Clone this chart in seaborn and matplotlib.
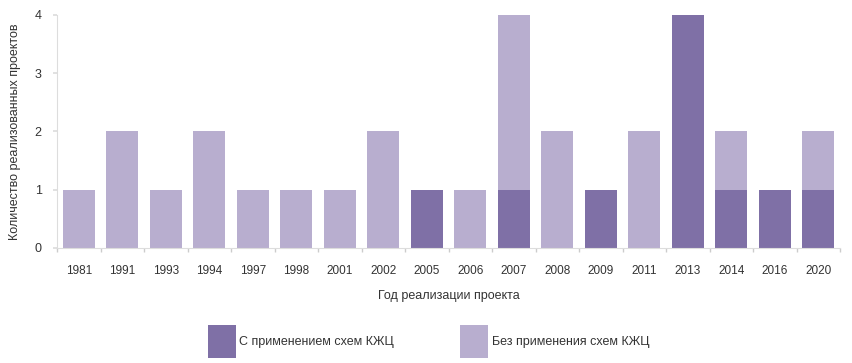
import matplotlib
matplotlib.use("Agg")
import matplotlib.pyplot as plt
from matplotlib.patches import Patch
import seaborn as sns
import pandas as pd
import numpy as np

years = ["1981", "1991", "1993", "1994", "1997", "1998", "2001", "2002", "2005",
         "2006", "2007", "2008", "2009", "2011", "2013", "2014", "2016", "2020"]
with_kzhc = [0, 0, 0, 0, 0, 0, 0, 0, 1, 0, 1, 0, 1, 0, 4, 1, 1, 1]
without_kzhc = [1, 2, 1, 2, 1, 1, 1, 2, 0, 1, 3, 2, 0, 2, 0, 1, 0, 1]
label_with = "С применением схем КЖЦ"
label_without = "Без применения схем КЖЦ"

dark = "#7f70a6"
light = "#b8aecf"
text_c = "#333333"

sns.set_theme(style="white")
plt.rcParams['font.family'] = ['Liberation Sans Narrow', 'Liberation Sans', 'DejaVu Sans']

df = pd.DataFrame({"year": years, "with": with_kzhc, "without": without_kzhc})
df["total"] = df["with"] + df["without"]

fig = plt.figure(figsize=(8.52, 3.63), dpi=100)
ax = fig.add_axes([0.067, 0.317, 0.919, 0.642])

sns.barplot(data=df, x="year", y="total", color=light, width=0.73,
            saturation=1, ax=ax, order=years, linewidth=0, edgecolor="none")
sns.barplot(data=df, x="year", y="with", color=dark, width=0.73,
            saturation=1, ax=ax, order=years, linewidth=0, edgecolor="none")

ax.set_ylim(0, 4)
ax.set_xlim(-0.5, len(years) - 0.5)
ax.set_yticks([0, 1, 2, 3, 4])
ax.set_ylabel("Количество реализованных проектов", fontsize=9, color=text_c, labelpad=10)
ax.set_xlabel("Год реализации проекта", fontsize=9, color=text_c, labelpad=10)
ax.tick_params(axis="x", labelsize=8.5, colors=text_c, length=0, pad=12)
ax.tick_params(axis="y", labelsize=9, colors=text_c, length=3, color="#dddddd", left=True, pad=8)
ax.set_xticks(np.arange(-0.5, len(years), 1), minor=True)
ax.tick_params(axis="x", which="minor", bottom=True, length=3, color="#cccccc")

for s in ["top", "right"]:
    ax.spines[s].set_visible(False)
for s in ["left", "bottom"]:
    ax.spines[s].set_color("#dddddd")
    ax.spines[s].set_linewidth(0.8)

handles = [Patch(facecolor=dark, edgecolor="none", label=label_with),
           Patch(facecolor=light, edgecolor="none", label=label_without)]
leg = fig.legend(handles=handles, loc="lower left", bbox_to_anchor=(0.231, -0.016),
                 ncol=2, frameon=False, fontsize=9, handlelength=2.2, handleheight=3.6,
                 handletextpad=0.3, columnspacing=5.3, labelcolor=text_c)

fig.savefig("out.png", dpi=100)
